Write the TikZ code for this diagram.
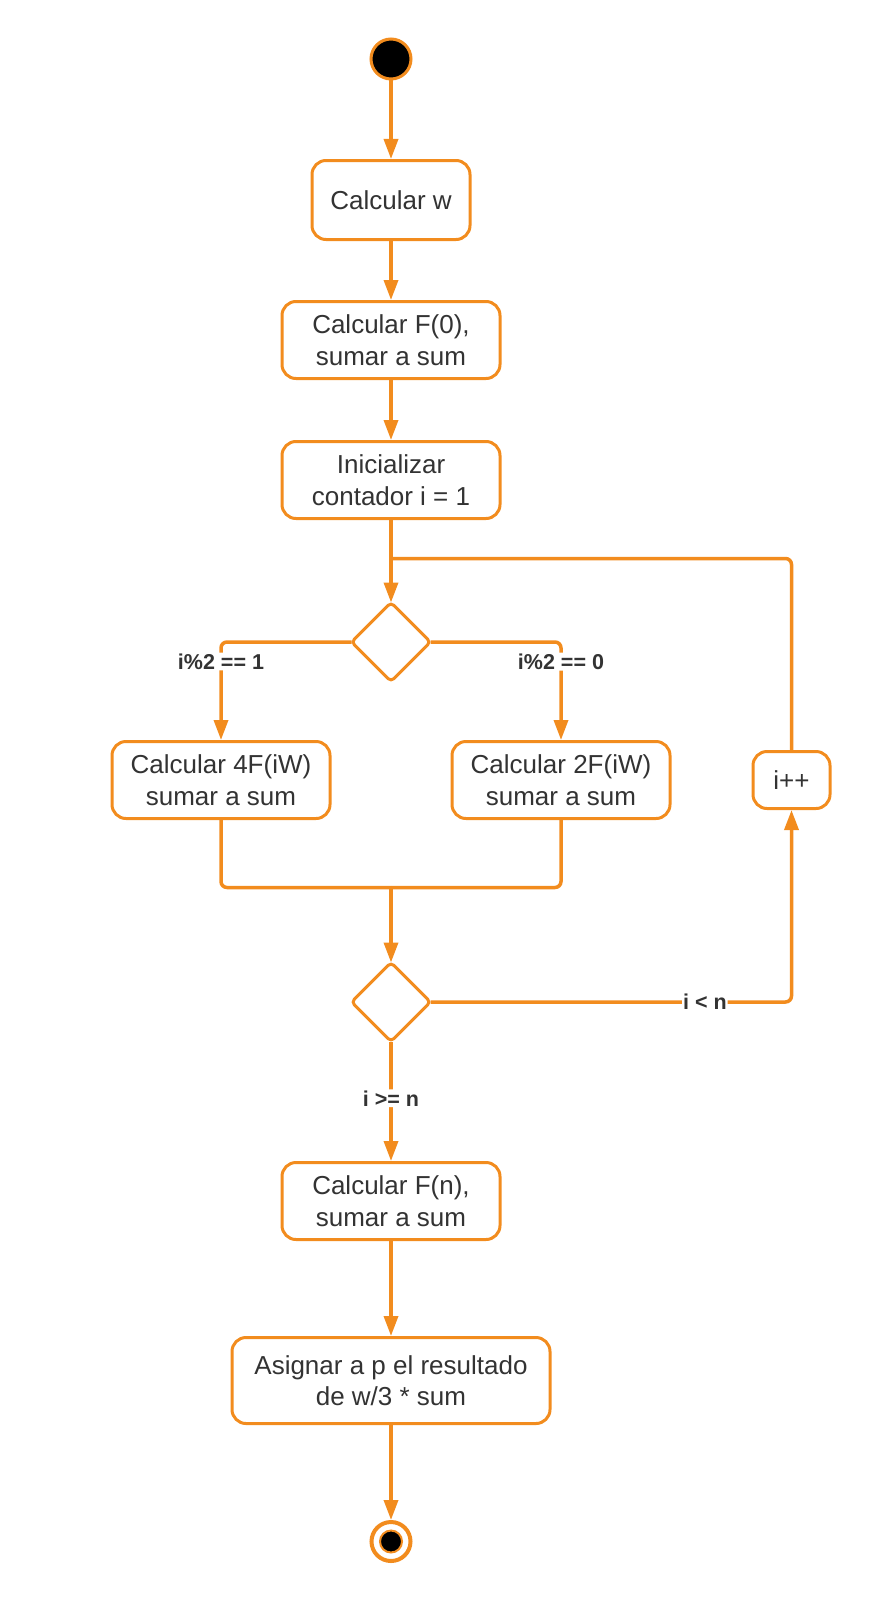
\documentclass[tikz,border=0pt]{standalone}
\usepackage{fontspec}
\setmainfont{Liberation Sans}
\usepackage{xcolor}
\usepackage{tikz}
\usetikzlibrary{arrows.meta,shapes.geometric,positioning}
\definecolor{lucidorange}{RGB}{242,140,30}
\definecolor{lucidtext}{RGB}{51,51,51}

\begin{document}
\begin{tikzpicture}[x=1pt, y=1pt,
    box/.style={draw=lucidorange,fill=white,rounded corners=14pt,minimum width=218pt,minimum height=77pt,align=center,text=lucidtext,font=\fontsize{26}{31.5}\selectfont,line width=3pt},
    choice/.style={diamond,draw=lucidorange,fill=white,rounded corners=4pt,minimum width=79pt,minimum height=79pt,inner sep=0pt,outer sep=0pt,line width=3pt},
    wire/.style={draw=lucidorange,line width=3.5pt,rounded corners=6pt},
    flow/.style={wire,-{Triangle[length=20pt,width=14pt]}},
    guard/.style={fill=white,text=lucidtext,font=\bfseries\fontsize{21.5}{26}\selectfont,inner sep=1pt}]
  \useasboundingbox (0,0) rectangle (871,-1600);
  \node[circle,fill=black,draw=lucidorange,minimum size=40pt,inner sep=0pt,line width=3pt] (start) at (391,-59) {};
  \node[box,minimum width=158pt,minimum height=79pt,below=78.5pt of start] (calcw) {Calcular w};
  \node[box,below=59pt of calcw] (fzero) {Calcular F(0),\\sumar a sum};
  \node[box,below=60pt of fzero] (init) {Inicializar\\contador i = 1};
  \node[choice,below=82.5pt of init] (parity) {};
  \node[box,below=58.5pt of parity,xshift=-170pt] (odd) {Calcular 4F(iW)\\sumar a sum};
  \node[box,below=58.5pt of parity,xshift=170pt] (even) {Calcular 2F(iW)\\sumar a sum};
  \node[box,minimum width=77pt,minimum height=57pt,right=80pt of even] (inc) {i++};
  \node[choice,below=281pt of parity] (bound) {};
  \node[box,below=119.5pt of bound] (fn) {Calcular F(n),\\sumar a sum};
  \node[box,minimum width=318pt,minimum height=86pt,below=95pt of fn] (assign) {Asignar a p el resultado\\de w/3 * sum};
  \node[circle,draw=lucidorange,minimum size=39pt,inner sep=0pt,line width=4pt,below=95pt of assign] (end) {};
  \fill[black,draw=lucidorange,line width=2pt] (end.center) circle (11pt);
  \coordinate[above=75pt of bound.north] (merge);
  \coordinate[above=44pt of parity.north] (loopjoin);

  \draw[flow] (start) -- (calcw);
  \draw[flow] (calcw) -- (fzero);
  \draw[flow] (fzero) -- (init);
  \draw[flow] (init) -- (parity);
  \draw[flow] (parity.west) -| node[guard,pos=0.6]{i\%2 == 1} (odd);
  \draw[flow] (parity.east) -| node[guard,pos=0.6]{i\%2 == 0} (even);
  \draw[wire] (odd) |- (merge);
  \draw[wire] (even) |- (merge);
  \draw[flow] (merge) -- (bound);
  \draw[flow] (bound.east) -| node[guard,pos=0.38]{i < n} (inc);
  \draw[wire] (inc) |- (loopjoin);
  \draw[flow] (bound) -- node[guard,pos=0.475]{i >= n} (fn);
  \draw[flow] (fn) -- (assign);
  \draw[flow] (assign) -- (end);
\end{tikzpicture}
\end{document}
